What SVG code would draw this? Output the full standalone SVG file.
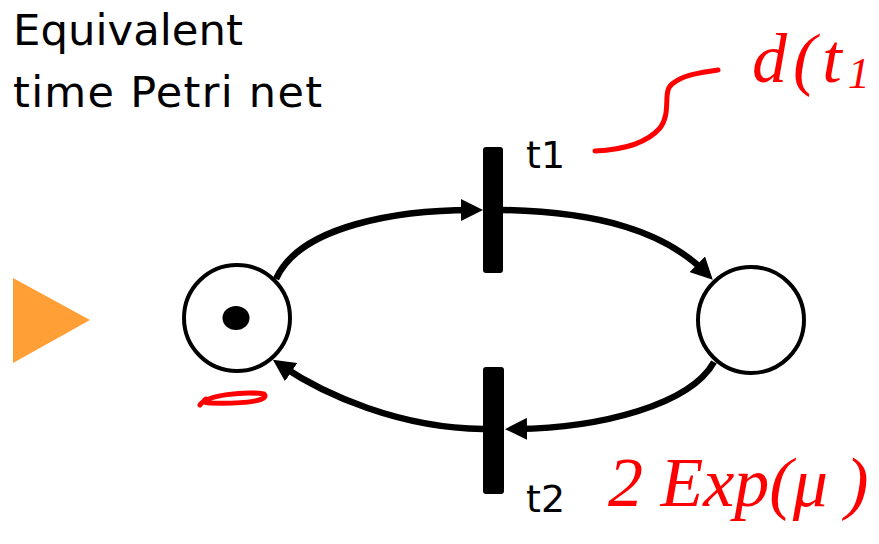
<svg xmlns="http://www.w3.org/2000/svg" width="879" height="544" viewBox="0 0 879 544">
<style>
.title{font-family:"DejaVu Sans","Liberation Sans",sans-serif;font-size:43px;fill:#000}
.lbl{font-family:"DejaVu Sans","Liberation Sans",sans-serif;font-size:38px;fill:#000}
.place{fill:#fff;stroke:#000;stroke-width:4}
.trans{fill:#000}
.arc{fill:none;stroke:#000;stroke-width:6.5}
.ink{fill:none;stroke:#f00;stroke-width:5;stroke-linecap:round;stroke-linejoin:round}
.hand{font-family:"Liberation Serif",serif;font-style:italic;fill:#f00}
</style>
<defs>
<marker id="ah" markerUnits="userSpaceOnUse" viewBox="0 0 22 22" refX="11" refY="11" markerWidth="22" markerHeight="22" orient="auto">
<path d="M0,0 L22,11 L0,22 z" fill="#000"/>
</marker>
</defs>
<g id="title">
<text class="title" x="13" y="45" textLength="230" lengthAdjust="spacingAndGlyphs">Equivalent</text>
<text class="title" x="13" y="107" textLength="309" lengthAdjust="spacing">time Petri net</text>
</g>
<polygon id="pointer" points="13,278 90,320 13,363" fill="#ff9f35"/>
<g id="connectors">
<path class="arc" d="M276 279 C300 225 400 210 472 210" marker-end="url(#ah)"/>
<path class="arc" d="M503 210 C600 212 665 232 705 272" marker-end="url(#ah)"/>
<path class="arc" d="M714 362 C690 405 600 428 516 429" marker-end="url(#ah)"/>
<path class="arc" d="M483 429 C400 428 325 395 282 366" marker-end="url(#ah)"/>
</g>
<g id="p1">
<circle class="place" cx="237" cy="318" r="53"/>
<ellipse cx="236" cy="318" rx="13.5" ry="12" fill="#000"/>
</g>
<g id="p2">
<circle class="place" cx="751" cy="320" r="53"/>
</g>
<g id="t1">
<rect class="trans" x="483" y="147" width="20" height="126" rx="3"/>
<text class="lbl" x="526" y="168">t1</text>
</g>
<g id="t2">
<rect class="trans" x="483" y="367" width="21" height="127" rx="3"/>
<text class="lbl" x="526" y="512">t2</text>
</g>
<g id="annotations">
<path class="ink" d="M595 151 C620 150 645 145 660 128 C672 112 662 92 672 84 C684 74 700 73 718 70"/>
<text class="hand" x="752" y="82" font-size="70" letter-spacing="6">d(t<tspan font-size="44" dy="6">1</tspan></text>
<path class="ink" d="M200 405 C206 395 245 391 264 394 C270 400 250 404 210 403 C204 403 202 401 206 399"/>
<text class="hand" x="608" y="506" font-size="70">2 Exp(μ )</text>
</g>
</svg>
